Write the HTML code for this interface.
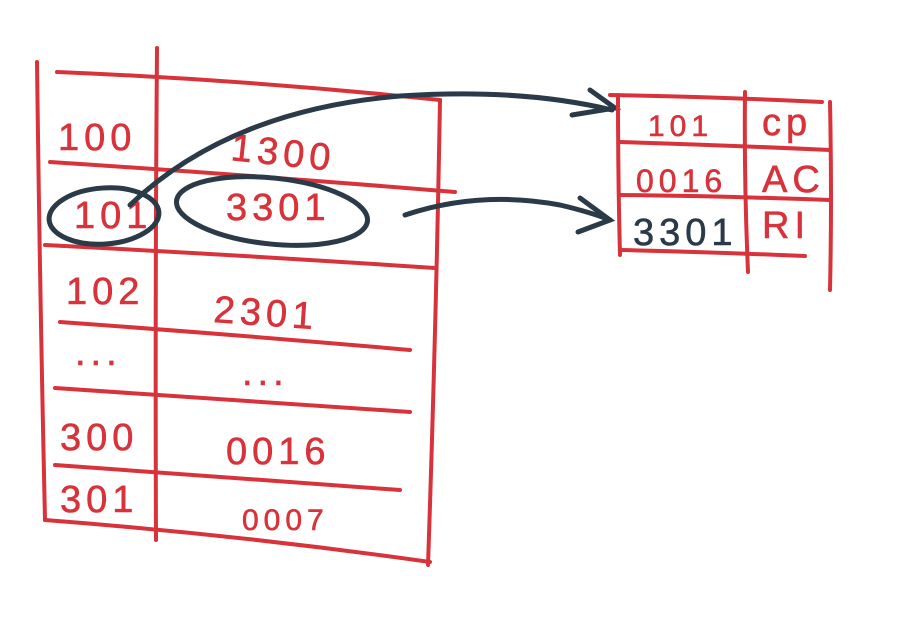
<!DOCTYPE html>
<html><head><meta charset="utf-8"><style>
html,body{margin:0;padding:0;background:#fff;width:917px;height:618px;overflow:hidden}
svg{display:block}
.r{stroke:#d8323a;stroke-width:4;fill:none;stroke-linecap:round}
.t{fill:#d8323a;stroke:#d8323a;stroke-width:0.6;font-family:"Liberation Sans",sans-serif;font-size:38px;font-weight:300;letter-spacing:5px}
.d{stroke:#2a3a48;stroke-width:5;fill:none;stroke-linecap:round}
</style></head><body>
<svg width="917" height="618" viewBox="0 0 917 618">
<g>
<path class="r" d="M37 62 Q40 300 45 520"/>
<path class="r" d="M57 72 Q250 80 440 100"/>
<path class="r" d="M440 100 Q436 330 428 565"/>
<path class="r" d="M45 520 Q240 535 430 562"/>
<path class="r" d="M157 48 Q155 300 156 540"/>
<path class="r" d="M50 162 Q250 175 455 192"/>
<path class="r" d="M45 245 Q240 255 435 268"/>
<path class="r" d="M60 322 Q240 335 410 350"/>
<path class="r" d="M55 388 Q230 400 410 412"/>
<path class="r" d="M55 465 Q230 478 400 490"/>
<text class="t" x="58" y="150">100</text>
<text class="t" x="230" y="160" transform="rotate(6 230 160)">1300</text>
<text class="t" x="74" y="228">101</text>
<text class="t" x="226" y="220">3301</text>
<text class="t" x="66" y="304">102</text>
<text class="t" x="213" y="322" transform="rotate(4 213 322)">2301</text>
<text class="t" x="75" y="365">...</text>
<text class="t" x="242" y="385">...</text>
<text class="t" x="60" y="450">300</text>
<text class="t" x="226" y="464">0016</text>
<text class="t" x="60" y="512">301</text>
<text class="t" x="242" y="530" style="font-size:30px">0007</text>
</g>
<ellipse class="d" cx="104" cy="216" rx="55" ry="28" transform="rotate(-4 104 216)"/>
<ellipse class="d" cx="272" cy="211" rx="96" ry="33" transform="rotate(6 272 211)"/>
<path class="d" d="M130 205 Q230 110 400 96 Q520 88 612 110"/>
<path class="d" d="M590 90 L615 108 L572 115"/>
<path class="d" d="M405 215 Q480 190 560 205 Q590 212 610 220"/>
<path class="d" d="M580 198 L610 220 L578 232"/>
<g>
<path class="r" d="M610 95 Q720 97 822 102"/>
<path class="r" d="M618 95 Q618 180 620 255"/>
<path class="r" d="M830 102 Q832 200 830 290"/>
<path class="r" d="M745 92 Q744 180 748 272"/>
<path class="r" d="M620 142 Q720 145 830 150"/>
<path class="r" d="M620 195 Q720 196 830 200"/>
<path class="r" d="M620 250 Q710 252 805 256"/>
<text class="t" x="648" y="136" style="font-size:30px">101</text>
<text class="t" x="762" y="135">cp</text>
<text class="t" x="636" y="192" style="font-size:32px">0016</text>
<text class="t" x="762" y="192">AC</text>
<text class="t" x="633" y="245" style="fill:#2a3a48;stroke:#2a3a48">3301</text>
<text class="t" x="762" y="238">RI</text>
</g>
</svg>
</body></html>
